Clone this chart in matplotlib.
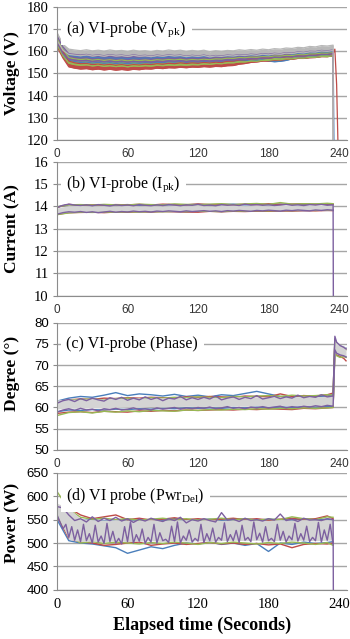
import matplotlib
matplotlib.use("Agg")
import matplotlib.pyplot as plt

plt.rcParams['mathtext.fontset'] = 'custom'
plt.rcParams['mathtext.rm'] = 'Liberation Serif'
plt.rcParams['mathtext.it'] = 'Liberation Serif:italic'

# time axes (seconds)
T5 = list(range(0, 240, 5))            # 0 .. 235
T10 = list(range(0, 240, 10)) + [235]  # 0 .. 230, 235
T25 = [i * 2.5 for i in range(95)]     # 0 .. 235
DROP_T = 235.2
DROP_T_BLUE = 235.9

# ---------------- (a) voltage: upper / lower edge of each run's noise band
# (*_HI carries the final drop value)
VOLT_BLUE_HI = [166.0, 161.0, 158.3, 157.8, 157.4, 157.6, 157.1, 157.3, 156.9, 157.2, 156.8, 157.0,
                156.7, 157.0, 156.8, 157.1, 156.9, 157.3, 157.1, 157.5, 157.3, 157.6, 157.2, 157.5,
                157.3, 157.6, 157.4, 157.8, 157.6, 158.0, 157.8, 158.1, 158.0, 158.3, 158.1, 158.4,
                158.0, 157.6, 157.4, 157.8, 158.4, 158.9, 158.8, 159.2, 159.2, 159.6, 159.5, 159.9,
                110.0]
VOLT_BLUE_LO = [163.0, 158.0, 156.0, 155.4, 155.0, 155.2, 154.7, 155.0, 154.6, 154.9, 154.5, 154.8,
                154.4, 154.8, 154.6, 154.9, 154.7, 155.1, 154.9, 155.3, 155.1, 155.4, 155.0, 155.3,
                155.1, 155.4, 155.2, 155.6, 155.4, 155.8, 155.6, 155.9, 155.8, 156.1, 155.9, 156.2,
                155.6, 155.3, 155.5, 155.9, 156.6, 157.1, 157.0, 157.4, 157.4, 157.8, 157.7, 158.1]
VOLT_RED_HI = [165.0, 160.0, 155.6, 154.8, 154.4, 154.5, 154.0, 154.2, 153.8, 154.1, 153.7, 154.0,
               153.6, 154.0, 153.8, 154.2, 154.0, 154.4, 154.2, 154.6, 154.4, 154.8, 154.5, 154.8,
               154.6, 155.0, 154.7, 155.1, 154.9, 155.5, 155.6, 156.1, 156.2, 156.6, 156.7, 157.0,
               156.9, 157.3, 157.3, 157.6, 157.6, 158.0, 157.9, 158.3, 158.4, 158.7, 158.7, 159.0,
               161.0, 145.0, 110.0]
VOLT_RED_HI_T = T5 + [236.5, 238.0, 239.5]
VOLT_RED_LO = [162.0, 157.0, 153.0, 152.4, 152.0, 152.2, 151.7, 152.0, 151.6, 151.9, 151.5, 151.8,
               151.5, 151.9, 151.7, 152.1, 152.0, 152.4, 152.2, 152.6, 152.5, 152.8, 152.6, 152.9,
               152.8, 153.1, 152.9, 153.2, 153.1, 153.5, 153.6, 154.2, 154.5, 155.0, 155.2, 155.6,
               155.6, 156.0, 156.0, 156.4, 156.4, 156.8, 156.8, 157.1, 157.2, 157.6, 157.6, 157.9]
VOLT_GREEN_HI = [166.0, 161.0, 157.2, 156.6, 156.3, 156.5, 156.0, 156.3, 155.9, 156.2, 155.8, 156.1,
                 155.7, 156.0, 155.8, 156.1, 155.8, 156.2, 156.0, 156.3, 156.1, 156.4, 156.0, 156.3,
                 156.1, 156.4, 156.2, 156.6, 156.5, 156.9, 156.8, 157.2, 157.1, 157.4, 157.3, 157.6,
                 157.5, 157.9, 157.8, 158.2, 158.1, 158.5, 158.4, 158.8, 158.8, 159.2, 159.1, 159.4,
                 110.0]
VOLT_GREEN_LO = [163.0, 158.0, 154.6, 154.0, 153.7, 153.9, 153.4, 153.7, 153.2, 153.5, 153.1, 153.4,
                 153.0, 153.4, 153.2, 153.5, 153.3, 153.7, 153.5, 153.8, 153.6, 153.9, 153.7, 154.0,
                 153.9, 154.3, 154.1, 154.5, 154.4, 154.8, 154.8, 155.2, 155.2, 155.6, 155.5, 155.9,
                 155.9, 156.3, 156.2, 156.6, 156.6, 157.0, 156.9, 157.3, 157.3, 157.7, 157.6, 158.0]
VOLT_PURPLE_HI = [167.0, 162.0, 158.9, 158.6, 158.3, 158.6, 158.1, 158.4, 158.0, 158.5, 158.1, 158.3,
                  157.9, 158.4, 158.0, 158.2, 157.8, 158.3, 158.0, 158.4, 158.1, 158.3, 157.8, 158.2,
                  157.9, 158.3, 157.7, 158.1, 157.9, 158.3, 158.1, 158.5, 158.3, 158.7, 158.5, 158.9,
                  158.7, 159.1, 158.9, 159.4, 159.2, 159.7, 159.5, 160.0, 159.9, 160.4, 160.2, 160.6,
                  110.0]
VOLT_PURPLE_LO = [164.0, 159.0, 156.5, 156.0, 155.7, 155.9, 155.4, 155.7, 155.3, 155.6, 155.2, 155.5,
                  155.1, 155.5, 155.2, 155.4, 155.1, 155.5, 155.3, 155.7, 155.5, 155.8, 155.4, 155.7,
                  155.5, 155.9, 155.5, 155.8, 155.7, 156.1, 156.0, 156.4, 156.3, 156.7, 156.6, 157.0,
                  156.9, 157.3, 157.2, 157.6, 157.5, 157.9, 157.8, 158.2, 158.2, 158.6, 158.6, 159.0]
VOLT_GRAY_HI = [168.5, 163.2, 161.0, 160.6, 160.3, 160.7, 160.2, 160.5, 160.1, 160.6, 160.2, 160.4,
                160.0, 160.5, 160.1, 160.3, 159.9, 160.4, 160.1, 160.6, 160.2, 160.5, 160.0, 160.4,
                160.1, 160.5, 159.8, 160.3, 160.0, 160.4, 160.2, 160.7, 160.4, 160.8, 160.5, 161.0,
                160.7, 161.2, 161.0, 161.5, 161.3, 161.8, 161.6, 162.2, 162.0, 162.6, 162.4, 162.8,
                110.0]
VOLT_GRAY_LO = [165.0, 160.5, 158.6, 158.3, 158.0, 158.4, 157.9, 158.2, 157.8, 158.3, 157.9, 158.1,
                157.7, 158.2, 157.8, 158.0, 157.6, 158.1, 157.8, 158.2, 157.9, 158.1, 157.6, 158.0,
                157.7, 158.1, 157.5, 157.9, 157.7, 158.1, 157.9, 158.3, 158.1, 158.5, 158.2, 158.7,
                158.4, 158.9, 158.7, 159.2, 159.0, 159.5, 159.3, 159.8, 159.7, 160.2, 160.0, 160.4]

# ---------------- (b) current, upper / lower levels of each run
CUR_BLUE_HI = [13.97, 14.08, 14.06, 14.05, 14.07, 14.06, 14.08, 14.05, 14.07, 14.06, 14.08, 14.07,
               14.09, 14.06, 14.08, 14.10, 14.07, 14.09, 14.08, 14.10, 14.09, 14.08, 14.10, 14.09, 14.08]
CUR_BLUE_LO = [13.66, 13.73, 13.74, 13.75, 13.74, 13.76, 13.75, 13.77, 13.76, 13.78, 13.77, 13.76,
               13.78, 13.79, 13.77, 13.79, 13.80, 13.79, 13.81, 13.80, 13.82, 13.81, 13.83, 13.82, 13.83]
CUR_RED_HI = [13.96, 14.09, 14.05, 14.07, 14.06, 14.08, 14.07, 14.09, 14.06, 14.10, 14.08, 14.07,
              14.11, 14.08, 14.09, 14.07, 14.10, 14.08, 14.12, 14.09, 14.10, 14.12, 14.09, 14.11, 14.10]
CUR_RED_LO = [13.64, 13.72, 13.73, 13.74, 13.72, 13.75, 13.74, 13.76, 13.75, 13.77, 13.76, 13.75,
              13.74, 13.78, 13.76, 13.78, 13.77, 13.79, 13.78, 13.80, 13.79, 13.81, 13.80, 13.82, 13.81]
CUR_GREEN_HI = [13.98, 14.07, 14.08, 14.06, 14.09, 14.07, 14.06, 14.10, 14.08, 14.07, 14.11, 14.09,
                14.08, 14.10, 14.12, 14.08, 14.11, 14.13, 14.09, 14.17, 14.10, 14.12, 14.11, 14.14, 14.12]
CUR_GREEN_LO = [13.63, 13.71, 13.74, 13.73, 13.75, 13.74, 13.76, 13.75, 13.77, 13.76, 13.78, 13.77,
                13.79, 13.78, 13.77, 13.80, 13.79, 13.81, 13.80, 13.82, 13.81, 13.83, 13.82, 13.84, 13.83]
CUR_GRAY_HI = [13.93, 14.03, 14.04, 14.02, 14.03, 14.02, 14.04, 14.02, 14.03, 14.02, 14.04, 14.03,
               14.04, 14.02, 14.04, 14.05, 14.03, 14.04, 14.03, 14.05, 14.04, 14.03, 14.05, 14.04, 14.04]
CUR_GRAY_LO = [13.68, 13.76, 13.78, 13.77, 13.79, 13.78, 13.80, 13.79, 13.80, 13.81, 13.80, 13.82,
               13.81, 13.82, 13.81, 13.83, 13.82, 13.83, 13.84, 13.83, 13.85, 13.84, 13.86, 13.85, 13.85]
CUR_PURPLE_HI = [13.95, 14.05, 14.10, 14.06, 14.04, 14.07, 14.03, 14.08, 14.05, 14.02, 14.07, 14.04,
                 14.06, 14.03, 14.08, 14.05, 14.03, 14.07, 14.04, 14.08, 14.06, 14.03, 14.07, 14.05,
                 14.09, 14.04, 14.06, 14.03, 14.08, 14.05, 14.07, 14.04, 14.10, 14.06, 14.08, 14.05,
                 14.07, 14.04, 14.06, 14.09, 14.05, 14.07, 14.04, 14.08, 14.06, 14.09, 14.05, 14.07,
                 10.0]
CUR_PURPLE_LO = [13.65, 13.72, 13.76, 13.74, 13.77, 13.73, 13.76, 13.72, 13.75, 13.78, 13.74, 13.77,
                 13.75, 13.79, 13.76, 13.78, 13.75, 13.79, 13.77, 13.80, 13.78, 13.76, 13.80, 13.77,
                 13.79, 13.81, 13.78, 13.80, 13.77, 13.81, 13.79, 13.82, 13.80, 13.78, 13.82, 13.80,
                 13.83, 13.81, 13.79, 13.83, 13.81, 13.84, 13.82, 13.80, 13.84, 13.82, 13.85, 13.83]

# ---------------- (c) phase, with the jump after the plasma goes off
TAIL_C = [236.5, 238.0, 241.0, 244.0, 246.0]
PH_BLUE_HI = [61.5, 62.2, 62.6, 62.4, 62.9, 63.5, 62.8, 63.2, 63.0, 62.7, 63.1, 62.6,
              62.9, 62.5, 63.0, 62.8, 63.3, 63.8, 63.2, 62.6, 62.4, 62.8, 62.5, 62.7, 63.0,
              76.2, 75.0, 74.5, 74.2, 74.0]
PH_BLUE_LO = [59.0, 59.4, 59.3, 59.5, 59.4, 59.6, 59.5, 59.7, 59.6, 59.8, 59.7, 59.9,
              59.8, 59.9, 59.8, 60.0, 59.9, 60.1, 60.0, 60.1, 60.0, 60.2, 60.1, 60.2, 60.3,
              73.2, 72.6, 72.3, 72.2, 72.0]
PH_RED_HI = [61.2, 61.8, 62.0, 61.9, 62.2, 62.1, 62.3, 62.2, 62.4, 62.3, 62.2, 62.5,
             62.4, 62.6, 62.5, 62.4, 62.7, 62.6, 62.5, 63.2, 62.6, 62.8, 62.7, 63.0, 63.4,
             76.0, 74.8, 74.4, 74.0, 73.8]
PH_RED_LO = [58.6, 58.9, 59.0, 58.8, 59.1, 59.0, 58.9, 59.2, 59.1, 59.3, 59.2, 59.4,
             59.3, 59.4, 59.5, 59.4, 59.6, 59.5, 59.7, 59.6, 59.5, 59.8, 59.7, 59.9, 60.0,
             73.0, 72.4, 72.0, 71.6, 71.0]
PH_GREEN_HI = [61.0, 61.7, 61.9, 62.0, 61.8, 62.1, 62.2, 62.0, 62.3, 62.2, 62.4, 62.3,
               62.5, 62.4, 62.3, 62.6, 62.5, 62.7, 62.8, 62.6, 62.9, 62.7, 62.8, 63.0, 62.9,
               75.8, 74.6, 74.2, 73.8, 73.6]
PH_GREEN_LO = [58.1, 58.8, 59.0, 58.7, 59.1, 58.9, 59.2, 59.0, 59.3, 59.2, 59.1, 59.4,
               59.3, 59.5, 59.4, 59.6, 59.5, 59.7, 59.6, 59.8, 59.7, 59.9, 59.8, 59.9, 60.0,
               72.8, 72.2, 71.8, 72.0, 71.8]
PH_GRAY_HI = [61.8, 62.0, 61.9, 62.1, 62.0, 62.2, 62.1, 62.3, 62.2, 62.3, 62.2, 62.4,
              62.3, 62.4, 62.3, 62.5, 62.4, 62.5, 62.4, 62.6, 62.5, 62.6, 62.5, 62.7, 62.6,
              76.0, 75.2, 74.8, 74.5, 74.2]
PH_GRAY_LO = [59.6, 59.9, 59.8, 60.0, 59.9, 60.0, 60.1, 60.0, 60.2, 60.1, 60.2, 60.3,
              60.2, 60.3, 60.2, 60.4, 60.3, 60.4, 60.3, 60.5, 60.4, 60.5, 60.4, 60.6, 60.5,
              73.0, 72.6, 72.3, 72.2, 72.0]
PH_PURPLE_HI = [61.0, 61.6, 61.9, 61.4, 62.1, 61.6, 62.2, 61.8, 61.5, 62.3, 61.9, 62.4,
                61.7, 62.2, 61.8, 62.5, 61.9, 62.3, 61.6, 62.2, 62.0, 62.6, 61.8, 62.3,
                61.9, 62.4, 62.0, 62.7, 61.8, 62.2, 62.5, 61.9, 62.4, 62.1, 62.8, 62.0,
                62.3, 62.6, 62.1, 62.5, 62.2, 62.9, 62.3, 62.6, 62.4, 63.0, 62.5, 62.7,
                76.8, 75.4, 74.6, 74.2, 73.8]
PH_PURPLE_LO = [58.9, 59.4, 59.7, 59.3, 59.8, 59.4, 59.6, 59.2, 59.7, 59.5, 59.8, 59.4,
                59.6, 59.9, 59.5, 59.7, 59.4, 59.9, 59.6, 59.8, 60.0, 59.6, 59.9, 59.7,
                60.0, 59.8, 60.1, 59.7, 59.9, 60.2, 59.8, 60.0, 59.7, 60.1, 59.9, 60.2,
                59.9, 60.1, 60.3, 59.9, 60.2, 60.0, 60.3, 60.1, 60.4, 60.2, 60.5, 60.3,
                73.6, 72.8, 72.4, 72.2, 71.9]

# ---------------- (d) delivered power
PW_BLUE_HI = [560, 565, 548, 550, 547, 549, 551, 548, 550, 549, 552, 548,
              550, 551, 549, 550, 552, 549, 551, 550, 549, 552, 550, 551, 550]
PW_BLUE_LO = [550, 505, 500, 498, 494, 490, 478, 485, 492, 488, 495, 500,
              498, 502, 497, 500, 495, 499, 482, 500, 497, 502, 499, 501, 503]
PW_RED_HI = [565, 575, 560, 552, 556, 560, 550, 553, 549, 551, 554, 550,
             552, 549, 551, 553, 550, 552, 549, 551, 553, 550, 552, 558, 552]
PW_RED_LO = [558, 510, 502, 500, 495, 497, 500, 502, 495, 498, 500, 497,
             499, 501, 498, 500, 497, 499, 496, 498, 490, 497, 499, 498, 500]
PW_GREEN_HI = [610, 572, 555, 551, 553, 550, 552, 549, 551, 553, 550, 552,
               549, 551, 553, 550, 552, 549, 551, 550, 556, 552, 550, 556, 555]
PW_GREEN_LO = [562, 515, 500, 503, 499, 502, 500, 498, 501, 499, 502, 500,
               497, 501, 499, 502, 500, 498, 501, 499, 502, 500, 497, 501, 495]
PW_GRAY_HI = [585, 575, 552, 550, 549, 550, 548, 549, 550, 548, 549, 550,
              549, 550, 548, 549, 550, 549, 548, 550, 549, 550, 549, 550, 549]
PW_GRAY_LO = [560, 508, 503, 504, 503, 505, 503, 504, 505, 503, 505, 504,
              505, 504, 505, 506, 505, 506, 504, 506, 505, 506, 505, 506, 506]
PW_PURPLE_HI = [578, 575, 560, 548, 552, 545, 556, 546, 553, 548, 555, 547,
                552, 544, 551, 547, 553, 549, 546, 552, 548, 555, 543, 550,
                547, 552, 548, 545, 565, 549, 551, 546, 553, 548, 550, 547,
                552, 549, 562, 548, 551, 546, 553, 549, 550, 548, 552, 550,
                400]
# lower level sampled every 2.5 s, with its frequent upward spikes
PW_PURPLE_LO = [560, 545, 530, 540, 512, 535, 506, 528, 503, 540, 505, 520,
                500, 538, 502, 515, 499, 542, 503, 525, 500, 510, 498, 535,
                503, 545, 500, 518, 504, 530, 499, 512, 502, 540, 500, 522,
                505, 508, 501, 536, 503, 545, 500, 515, 506, 528, 502, 510,
                504, 540, 501, 520, 505, 532, 502, 512, 506, 543, 503, 518,
                505, 527, 501, 538, 506, 512, 503, 545, 507, 521, 502, 535,
                505, 510, 503, 540, 506, 525, 502, 515, 507, 542, 504, 520,
                506, 536, 503, 512, 505, 544, 502, 528, 506, 540, 498]

BLUE, RED, GREEN, PURPLE = '#4a7ebb', '#be4b48', '#98b954', '#7d60a0'
GRAY_FILL, GRID = '#d4d4d4', '#a6a6a6'
LW = 1.0
XTICKS = [0, 60, 120, 180, 240]


def style(ax, ylim, yticks, ylabel, label, label_y, serif_y=False, serif_x=False, ylabel_y=0.5):
    ax.set_xlim(0, 247)
    ax.set_ylim(*ylim)
    ax.set_yticks(yticks)
    ax.set_xticks(XTICKS)
    ax.grid(axis='y', color=GRID, lw=1.0)
    ax.set_axisbelow(True)
    for s in ('top', 'right'):
        ax.spines[s].set_visible(False)
    for s in ('left', 'bottom'):
        ax.spines[s].set_color('#8c8c8c')
    if serif_y:
        ax.tick_params(axis='y', length=3, color='#8c8c8c', pad=3,
                       labelfontfamily='Liberation Serif', labelsize=10.5)
    else:
        ax.tick_params(axis='y', length=3, color='#8c8c8c', pad=3,
                       labelfontfamily='Liberation Sans', labelsize=9.5)
    if serif_x:
        ax.tick_params(axis='x', length=0, pad=6,
                       labelfontfamily='Liberation Serif', labelsize=10.5)
    else:
        ax.tick_params(axis='x', length=0, pad=6, labelcolor='#333333',
                       labelfontfamily='Liberation Sans', labelsize=8.5)
    ax.set_ylabel(ylabel, family='Liberation Serif', weight='bold', fontsize=12.5)
    ax.yaxis.set_label_coords(-0.128, ylabel_y)
    ax.text(8, label_y, label, family='Liberation Serif', fontsize=11.5, va='center',
            bbox=dict(facecolor='white', edgecolor='none', pad=4), zorder=5)


def band_panel(ax, t_lines, lines, t_gray, gray_hi, gray_lo, t_phi, p_hi, t_plo, p_lo):
    for hi, lo, c in lines:
        ax.plot(t_lines, hi, color=c, lw=LW)
        ax.plot(t_lines, lo, color=c, lw=LW)
    ax.fill_between(t_gray, gray_lo, gray_hi, color=GRAY_FILL, lw=0, zorder=2.1)
    ax.plot(t_phi, p_hi, color=PURPLE, lw=LW, zorder=2.2)
    ax.plot(t_plo, p_lo, color=PURPLE, lw=LW, zorder=2.2)


fig = plt.figure(figsize=(3.5, 6.39), dpi=100)
L, W = 0.163, 0.829
ax_a = fig.add_axes([L, 0.781, W, 0.208])
ax_b = fig.add_axes([L, 0.537, W, 0.210])
ax_c = fig.add_axes([L, 0.296, W, 0.199])
ax_d = fig.add_axes([L, 0.077, W, 0.183])

# (a) each run drawn as its own noise band, gray last
ta = T5 + [DROP_T]
bands_a = [(VOLT_RED_HI, VOLT_RED_HI_T, VOLT_RED_LO, RED),
           (VOLT_GREEN_HI, ta, VOLT_GREEN_LO, GREEN),
           (VOLT_PURPLE_HI, ta, VOLT_PURPLE_LO, PURPLE),
           (VOLT_GRAY_HI, ta, VOLT_GRAY_LO, '#b8b8b8')]
ax_a.fill_between(T5, VOLT_BLUE_LO, VOLT_BLUE_HI[:len(T5)], color=BLUE, lw=0)
ax_a.plot(T5, VOLT_BLUE_LO, color=BLUE, lw=0.9)
for hi, t_hi, lo, c in bands_a:
    ax_a.fill_between(T5, lo, hi[:len(T5)], color=c, lw=0)
    ax_a.plot(t_hi, hi, color=c, lw=0.9)
    ax_a.plot(T5, lo, color=c, lw=0.9)
# blue run ends slightly later, its fall stays visible
ax_a.plot(T5 + [DROP_T_BLUE], VOLT_BLUE_HI, color=BLUE, lw=0.9, zorder=1.9)
style(ax_a, (120, 180), range(120, 181, 10), 'Voltage (V)',
      r'(a) VI-probe (V$_{\mathrm{pk}}$)', 170, serif_y=True)

# (b)
band_panel(ax_b, T10,
           [(CUR_BLUE_HI, CUR_BLUE_LO, BLUE), (CUR_RED_HI, CUR_RED_LO, RED),
            (CUR_GREEN_HI, CUR_GREEN_LO, GREEN)],
           T10, CUR_GRAY_HI, CUR_GRAY_LO,
           T5 + [DROP_T], CUR_PURPLE_HI, T5, CUR_PURPLE_LO)
style(ax_b, (10, 16), range(10, 17), 'Current (A)',
      r'(b) VI-probe (I$_{\mathrm{pk}}$)', 15, serif_y=True)

# (c)
band_panel(ax_c, T10 + TAIL_C,
           [(PH_BLUE_HI, PH_BLUE_LO, BLUE), (PH_RED_HI, PH_RED_LO, RED),
            (PH_GREEN_HI, PH_GREEN_LO, GREEN)],
           T10 + TAIL_C, PH_GRAY_HI, PH_GRAY_LO,
           T5 + TAIL_C, PH_PURPLE_HI, T5 + TAIL_C, PH_PURPLE_LO)
style(ax_c, (50, 80), range(50, 81, 5), 'Degree (°)',
      '(c) VI-probe (Phase)', 75, ylabel_y=0.6)

# (d)
band_panel(ax_d, T10,
           [(PW_BLUE_HI, PW_BLUE_LO, BLUE), (PW_RED_HI, PW_RED_LO, RED),
            (PW_GREEN_HI, PW_GREEN_LO, GREEN)],
           T10, PW_GRAY_HI, PW_GRAY_LO,
           T5 + [DROP_T], PW_PURPLE_HI, T25, PW_PURPLE_LO)
style(ax_d, (400, 650), range(400, 651, 50), 'Power (W)',
      r'(d) VI probe (Pwr$_{\mathrm{Del}}$)', 600, serif_x=True, ylabel_y=0.57)
ax_d.set_xlabel('Elapsed time (Seconds)', family='Liberation Serif', weight='bold',
                fontsize=13, labelpad=4)

fig.savefig('out.png', dpi=100)
